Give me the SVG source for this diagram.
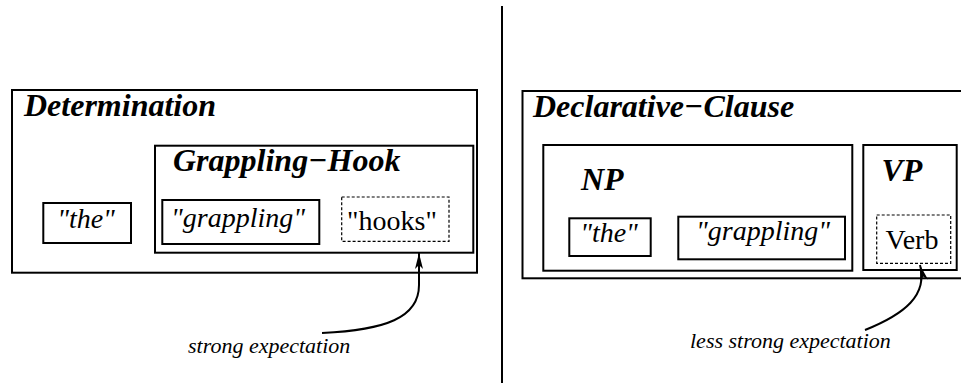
<svg xmlns="http://www.w3.org/2000/svg" width="961" height="383" viewBox="0 0 961 383">
<style>
.box{fill:none;stroke:#000;stroke-width:2}
.dot{fill:none;stroke:#000;stroke-width:1.2;stroke-dasharray:3 2}
.h{font-family:"Liberation Serif",serif;font-weight:bold;font-style:italic;font-size:32px;fill:#000}
.w{font-family:"Liberation Serif",serif;font-style:italic;font-size:28px;fill:#000;text-anchor:middle}
.r{font-family:"Liberation Serif",serif;font-size:28px;fill:#000;text-anchor:middle}
.l{font-family:"Liberation Serif",serif;font-style:italic;font-size:22px;fill:#000}
.c{fill:none;stroke:#000;stroke-width:2}
</style>
<defs>
<marker id="ah" viewBox="0 0 16 8" refX="16" refY="4" markerWidth="16" markerHeight="8" markerUnits="userSpaceOnUse" orient="auto">
<path d="M0,0 L16,4 L0,8 L4,4 z" fill="#000"/>
</marker>
</defs>
<line x1="502" y1="6" x2="502" y2="383" stroke="#000" stroke-width="2"/>
<g id="determination">
<rect class="box" x="12" y="90" width="465" height="182.7"/>
<text class="h" x="24" y="116">Determination</text>
</g>
<g id="the-left">
<rect class="box" x="43.3" y="203" width="87.7" height="40"/>
<text class="w" x="86" y="228">"the"</text>
</g>
<g id="grappling-hook">
<rect class="box" x="155" y="145.7" width="318.3" height="107"/>
<text class="h" x="173" y="171">Grappling−Hook</text>
</g>
<g id="grappling-left">
<rect class="box" x="162.3" y="200" width="157" height="44"/>
<text class="w" x="238" y="227">"grappling"</text>
</g>
<g id="hooks">
<rect class="dot" x="341.7" y="197" width="107.3" height="44.3"/>
<text class="r" x="392" y="230">"hooks"</text>
</g>
<g id="declarative-clause">
<rect class="box" x="522.5" y="91" width="460" height="187.3"/>
<text class="h" x="533" y="116.5">Declarative−Clause</text>
</g>
<g id="np">
<rect class="box" x="543.3" y="145" width="309" height="125.7"/>
<text class="h" x="581" y="190">NP</text>
</g>
<g id="the-right">
<rect class="box" x="569.3" y="218.3" width="81.4" height="37.7"/>
<text class="w" x="609" y="242">"the"</text>
</g>
<g id="grappling-right">
<rect class="box" x="678.3" y="216.7" width="166.7" height="42.6"/>
<text class="w" x="763" y="240">"grappling"</text>
</g>
<g id="vp">
<rect class="box" x="863.3" y="145" width="93.4" height="125"/>
<text class="h" x="881.5" y="181">VP</text>
</g>
<g id="verb">
<rect class="dot" x="876.7" y="215" width="74" height="48.3"/>
<text class="r" x="912" y="249">Verb</text>
</g>
<g id="connectors">
<path class="c" d="M322,333 C385,330 419,318 419,285 L419,253" marker-end="url(#ah)"/>
<path class="c" d="M865,330 C905,314 928,295 920,265" marker-end="url(#ah)"/>
</g>
<g id="labels">
<text class="l" x="188" y="353">strong expectation</text>
<text class="l" x="690" y="348">less strong expectation</text>
</g>
</svg>
